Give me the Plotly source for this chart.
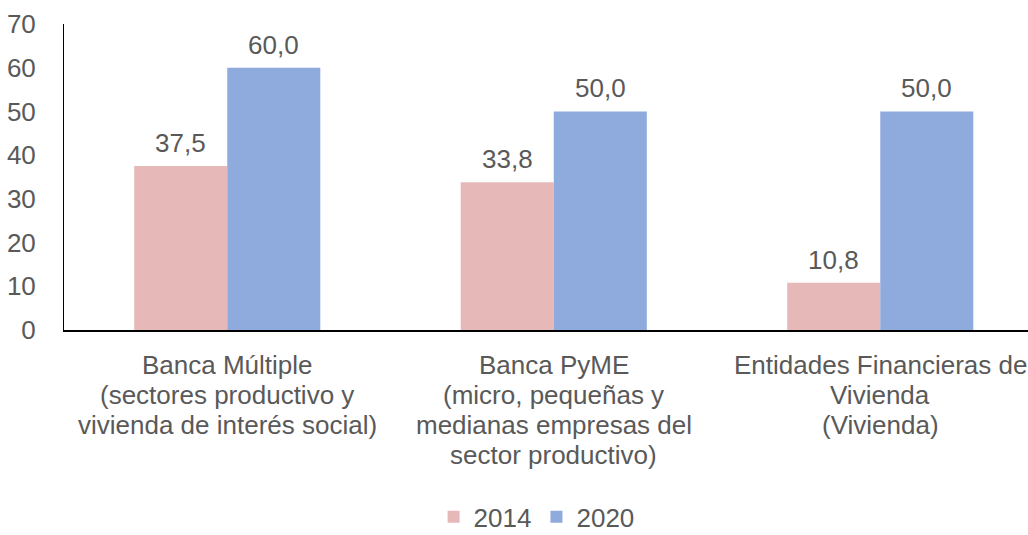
import plotly.graph_objects as go

categories = [
    "Banca Múltiple<br>(sectores productivo y<br>vivienda de interés social)",
    "Banca PyME<br>(micro, pequeñas y<br>medianas empresas del<br>sector productivo)",
    "Entidades Financieras de<br>Vivienda<br>(Vivienda)",
]
years = ["2014", "2020"]
values_2014 = [37.5, 33.8, 10.8]
values_2020 = [60.0, 50.0, 50.0]
y_ticks = [0, 10, 20, 30, 40, 50, 60, 70]

colors = {"2014": "#E6B9B8", "2020": "#8FAADC"}
text_color = "#595959"
font_family = "Liberation Sans, Arial, sans-serif"
font_size = 26
bar_w = 0.285
line_gap = 30      # px between lines of the category labels
first_line = 35    # px from the axis to the first label line

x_pos = list(range(len(categories)))

fig = go.Figure()
series = {"2014": values_2014, "2020": values_2020}
for year in years:
    fig.add_trace(go.Bar(
        x=x_pos,
        y=series[year],
        name=year,
        marker=dict(color=colors[year], line=dict(width=0)),
        width=bar_w,
    ))

# value labels above each bar
for k, year in enumerate(years):
    offset = (k - 0.5) * bar_w
    for i, v in enumerate(series[year]):
        fig.add_annotation(
            x=x_pos[i] + offset, y=v, xref="x", yref="y",
            text=f"{v:.1f}".replace(".", ","),
            showarrow=False, yanchor="bottom", yshift=6,
            font=dict(family=font_family, size=font_size, color=text_color),
        )

# category labels under the axis, one line at a time for tighter leading
for i, label in enumerate(categories):
    for j, line in enumerate(label.split("<br>")):
        fig.add_annotation(
            x=x_pos[i], y=0, xref="x", yref="y",
            text=line, showarrow=False,
            xanchor="center", yanchor="middle",
            yshift=-(first_line + j * line_gap),
            font=dict(family=font_family, size=font_size, color=text_color),
        )

fig.update_layout(
    width=1028, height=535,
    margin=dict(l=64, r=0, t=24, b=205, autoexpand=False),
    paper_bgcolor="white", plot_bgcolor="white",
    barmode="group", bargap=0.43, bargroupgap=0,
    font=dict(family=font_family, size=font_size, color=text_color),
    showlegend=True,
    legend=dict(orientation="h", x=0.522, xref="container", xanchor="center",
                y=0.034, yref="container", yanchor="middle",
                font=dict(size=font_size, color=text_color), traceorder="normal",
                itemwidth=30),
)
fig.update_xaxes(
    tickmode="array", tickvals=x_pos, showticklabels=False,
    range=[-0.5, 2.4525], showgrid=False, zeroline=False,
    showline=True, linecolor="black", linewidth=2, ticks="",
    automargin=False,
)
fig.update_yaxes(
    range=[0, 70], tickvals=y_ticks, showgrid=False, zeroline=False,
    showline=True, linecolor="black", linewidth=1, ticks="",
    ticklabelstandoff=22, automargin=False,
    tickfont=dict(size=font_size, color=text_color),
)

fig.write_html("out.html")
